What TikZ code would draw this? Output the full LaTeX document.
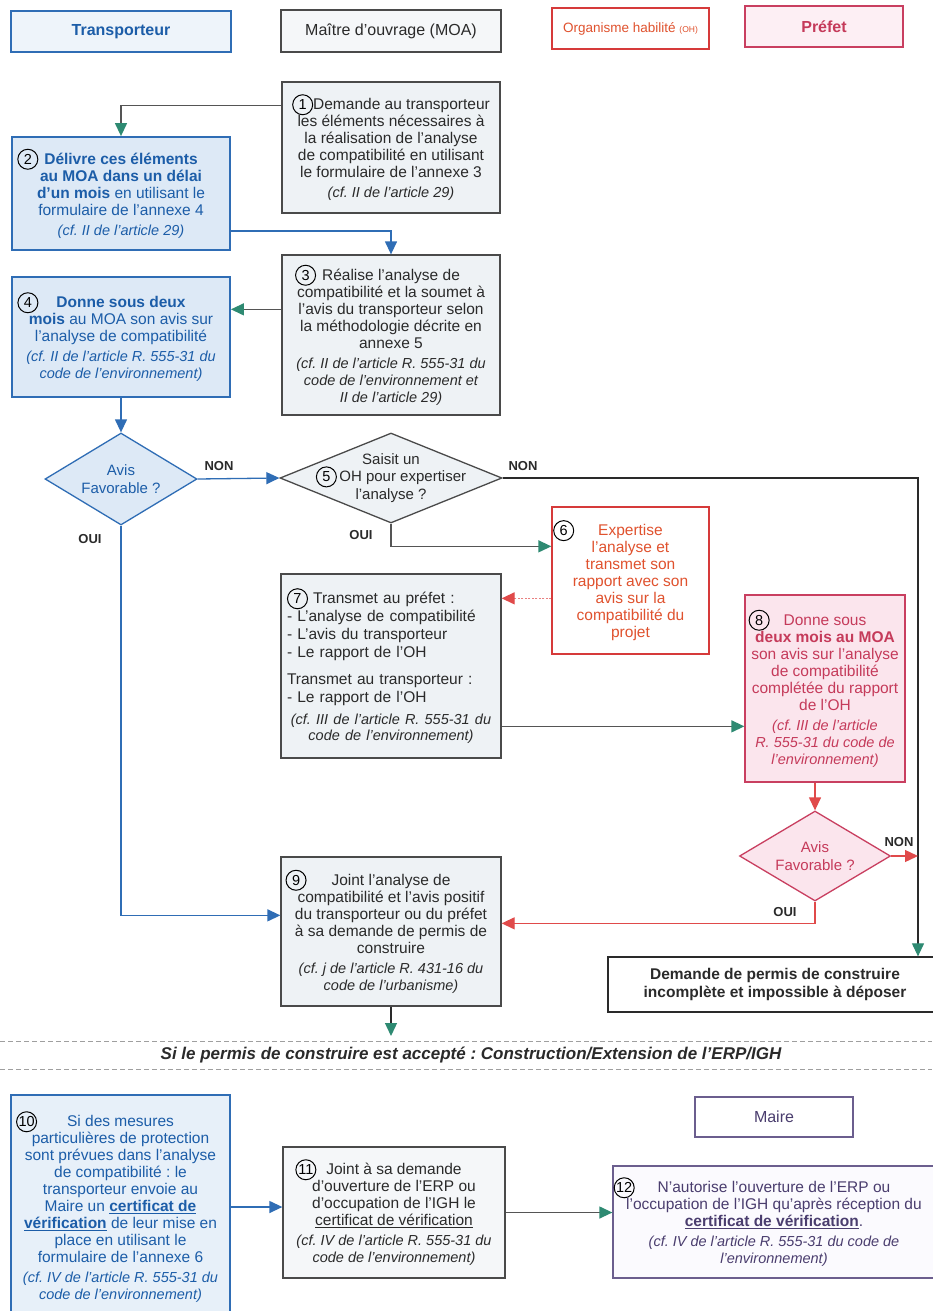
\documentclass[tikz,border=0pt]{standalone}
\usepackage{fontspec}
\setmainfont{Liberation Sans}
\usetikzlibrary{arrows.meta,shapes.geometric,calc}
\frenchspacing

\definecolor{trText}{HTML}{1C5DA8}
\definecolor{trBorder}{HTML}{2F6DB5}
\definecolor{trFill}{HTML}{DDE9F6}
\definecolor{moaBorder}{HTML}{4A4A4A}
\definecolor{moaFill}{HTML}{EEF2F5}
\definecolor{moaText}{HTML}{2A2A2A}
\definecolor{ohBorder}{HTML}{D63A3A}
\definecolor{ohText}{HTML}{E0522E}
\definecolor{prBorder}{HTML}{C93F60}
\definecolor{prText}{HTML}{C53A5A}
\definecolor{prFill}{HTML}{FBE5ED}
\definecolor{arrG}{HTML}{2E8A72}
\definecolor{lineG}{HTML}{555555}
\definecolor{arrR}{HTML}{E04A4A}
\definecolor{purBorder}{HTML}{6B5E8E}
\definecolor{purText}{HTML}{4A3D6E}
\definecolor{purFill}{HTML}{FBFAFE}

\newcommand\bodyf{\fontsize{15.5}{17}\selectfont}
\newcommand\cff{\fontsize{14.5}{16.5}\selectfont\itshape}
\newcommand\cnum[1]{\tikz[baseline=-5pt]\node[shape=circle,draw=black,fill=none,line width=1pt,inner sep=0pt,outer sep=0pt,minimum size=20pt,text width={},align=center,text=black,font=\fontsize{14.5}{14.5}\selectfont] (cnode) {#1};}

\tikzset{
 basebox/.style={draw, line width=1.3pt, align=center, inner sep=2pt, font=\bodyf},
 moabox/.style={basebox, draw=moaBorder, fill=moaFill, text=moaText},
 trbox/.style={basebox, draw=trBorder, fill=trFill, text=trText, line width=1.8pt},
 ohbox/.style={basebox, draw=ohBorder, fill=white, text=ohText},
 prbox/.style={basebox, draw=prBorder, fill=prFill, text=prText},
 purbox/.style={basebox, draw=purBorder, fill=white, text=purText},
 decision/.style={diamond, draw, line width=1.3pt, inner sep=0pt},
 dtext/.style={align=center, font=\fontsize{15}{17.5}\selectfont},
 conn/.style={line width=1.3pt},
 tipG/.style={-{Triangle[length=13pt,width=12pt,color=arrG]}},
 tipB/.style={-{Triangle[length=13pt,width=12pt,color=trBorder]}},
 tipR/.style={-{Triangle[length=13pt,width=12pt,color=arrR]}},
 yn/.style={font=\fontsize{13}{14}\selectfont\bfseries, text=moaText},
 dashline/.style={draw=gray!75, line width=1pt, dash pattern=on 5pt off 3pt},
}

\begin{document}
\begin{tikzpicture}[x=1pt,y=-1pt]
\useasboundingbox (0,0) rectangle (932,1311);
\fill[white] (0,0) rectangle (932,1311);

% headers
\node[trbox, fill=trFill!50, minimum width=220pt, minimum height=41pt, font=\fontsize{16}{17}\selectfont\bfseries] (hT) at (121,31.5) {Transporteur};
\node[moabox, fill=moaFill!60, minimum width=220pt, minimum height=42pt, font=\fontsize{16}{17}\selectfont] (hM) at (391,31) {Maître d'ouvrage (MOA)};
\node[ohbox, minimum width=157pt, minimum height=41pt, font=\fontsize{13.5}{15}\selectfont] (hO) at (630.5,28.5) {Organisme habilité {\fontsize{8.5}{9}\selectfont (OH)}};
\node[prbox, fill=prFill!60, minimum width=158pt, minimum height=41pt, font=\fontsize{16}{17}\selectfont\bfseries] (hP) at (824,26.5) {Préfet};

% boxes
\node[moabox, minimum width=218pt, minimum height=131pt] (b1) at (391,147.5) {\cnum{1}Demande au transporteur\\ les éléments nécessaires à\\ la réalisation de l'analyse\\ de compatibilité en utilisant\\ le formulaire de l'annexe 3\\[3pt] {\cff (cf. II de l'article 29)}};

\node[trbox, minimum width=218pt, minimum height=113pt] (b2) at (121,193.5) {\llap{\cnum{2}\hspace{6pt}}\textbf{Délivre ces éléments}\\ \textbf{au MOA dans un délai}\\ \textbf{d'un mois} en utilisant le\\ formulaire de l'annexe 4\\[3pt] {\cff (cf. II de l'article 29)}};

\node[moabox, minimum width=218pt, minimum height=160pt] (b3) at (391,335) {\llap{\cnum{3}\hspace{6pt}}Réalise l'analyse de\\ compatibilité et la soumet à\\ l'avis du transporteur selon\\ la méthodologie décrite en\\ annexe 5\\[3pt] {\cff (cf. II de l'article R. 555-31 du}\\ {\cff code de l'environnement et}\\ {\cff II de l'article 29)}};

\node[trbox, minimum width=218pt, minimum height=120pt] (b4) at (121,337) {\llap{\cnum{4}\hspace{18pt}}\textbf{Donne sous deux}\\ \textbf{mois} au MOA son avis sur\\ l'analyse de compatibilité\\[3pt] {\cff (cf. II de l'article R. 555-31 du}\\ {\cff code de l'environnement)}};

% decisions
\node[decision, draw=trBorder, fill=trFill, minimum width=152pt, minimum height=92pt] (d1) at (121,479) {};
\node[dtext, text=trText] (d1t) at (d1.center) {Avis\\ Favorable ?};

\node[decision, draw=moaBorder, fill=moaFill, minimum width=222pt, minimum height=90pt] (d2) at (391,478) {};
\node[dtext, text=moaText] (d2t) at (d2.center) {Saisit un\\ \cnum{5}\,OH pour expertiser\\ l'analyse ?};

\node[ohbox, minimum width=157pt, minimum height=147pt] (b6) at (630.5,580.5) {\llap{\cnum{6}\hspace{24pt}}Expertise\\ l'analyse et\\ transmet son\\ rapport avec son\\ avis sur la\\ compatibilité du\\ projet};

\node[moabox, minimum width=220pt, minimum height=184pt, text width=208pt, align=left, font=\fontsize{15.5}{18}\selectfont] (b7) at (391,666) {\cnum{7} Transmet au préfet :\\ - L'analyse de compatibilité\\ - L'avis du transporteur\\ - Le rapport de l'OH\\[9pt] Transmet au transporteur :\\ - Le rapport de l'OH\par\vspace{5pt}{\centering\cff (cf. III de l'article R. 555-31 du\\ code de l'environnement)\par}};

\node[prbox, minimum width=160pt, minimum height=187pt] (b8) at (825,688.5) {\llap{\cnum{8}\hspace{14pt}}Donne sous\\ \textbf{deux mois au MOA}\\ son avis sur l'analyse\\ de compatibilité\\ complétée du rapport\\ de l'OH\\[3pt] {\cff (cf. III de l'article}\\ {\cff R. 555-31 du code de}\\ {\cff l'environnement)}};

\node[decision, draw=prBorder, fill=prFill, minimum width=151pt, minimum height=90pt] (d3) at (815,856) {};
\node[dtext, text=prText] (d3t) at (d3.center) {Avis\\ Favorable ?};

\node[moabox, minimum width=220pt, minimum height=149pt] (b9) at (391,931.5) {\llap{\cnum{9}\hspace{25pt}}Joint l'analyse de\\ compatibilité et l'avis positif\\ du transporteur ou du préfet\\ à sa demande de permis de\\ construire\\[3pt] {\cff (cf. j de l'article R. 431-16 du}\\ {\cff code de l'urbanisme)}};

\node[basebox, draw=moaText, fill=white, text=moaText, font=\fontsize{15.5}{18}\selectfont\bfseries, minimum width=334pt, minimum height=55pt] (dem) at (775,984.5) {Demande de permis de construire\\ incomplète et impossible à déposer};

% separator
\coordinate (sepL1) at (0,1041);
\coordinate (sepR1) at (932,1041);
\coordinate (sepL2) at (0,1069);
\coordinate (sepR2) at (932,1069);
\draw[dashline] (sepL1) -- (sepR1);
\draw[dashline] (sepL2) -- (sepR2);
\node[font=\fontsize{17}{18}\selectfont\bfseries\itshape, text=moaText] (banner) at (471,1055) {Si le permis de construire est accepté : Construction/Extension de l'ERP/IGH};

\node[trbox, fill=trFill!70, minimum width=219pt, minimum height=224pt] (b10) at (120.5,1207) {\llap{\cnum{10}\hspace{30pt}}Si des mesures\\ particulières de protection\\ sont prévues dans l'analyse\\ de compatibilité : le\\ transporteur envoie au\\ Maire un \underline{\textbf{certificat de}}\\ \underline{\textbf{vérification}} de leur mise en\\ place en utilisant le\\ formulaire de l'annexe 6\\[3pt] {\cff (cf. IV de l'article R. 555-31 du}\\ {\cff code de l'environnement)}};

\node[moabox, fill=moaFill!60, minimum width=222pt, minimum height=131pt] (b11) at (394,1212.5) {\llap{\cnum{11}\hspace{10pt}}Joint à sa demande\\ d'ouverture de l'ERP ou\\ d'occupation de l'IGH le\\ \underline{certificat de vérification}\\[3pt] {\cff (cf. IV de l'article R. 555-31 du}\\ {\cff code de l'environnement)}};

\node[purbox, minimum width=158pt, minimum height=40pt, font=\fontsize{16}{17}\selectfont] (maire) at (774,1117) {Maire};

\node[purbox, fill=purFill, minimum width=322pt, minimum height=112pt] (b12) at (774,1222) {\llap{\cnum{12}\hspace{23pt}}N'autorise l'ouverture de l'ERP ou\\ l'occupation de l'IGH qu'après réception du\\ \underline{\textbf{certificat de vérification}}.\\[3pt] {\cff (cf. IV de l'article R. 555-31 du code de}\\ {\cff l'environnement)}};

% labels
\node[yn] (non1) at (219,466) {NON};
\node[yn] (non2) at (523,466) {NON};
\node[yn] (oui1) at (90,539) {OUI};
\node[yn] (oui2) at (361,535) {OUI};
\node[yn] (non3) at (899,842) {NON};
\node[yn] (oui3) at (785,912) {OUI};

% connectors
\coordinate (a1) at ($(b1.north west)+(0,24)$);
\draw[conn, draw=lineG, tipG] (a1) -| (b2.north);
\coordinate (a2) at ($(b2.south east)+(0,-20)$);
\draw[conn, draw=trBorder, tipB] (a2) -| (b3.north);
\coordinate (a3) at ($(b3.north west)+(0,55)$);
\draw[conn, draw=lineG, tipG] (a3) -- (a3 -| b4.east);
\draw[conn, draw=trBorder, tipB] (b4.south) -- (d1.north);
\draw[conn, draw=trBorder, tipB] (d1.east) -- (d2.west);
\coordinate (rline) at (918,478);
\draw[line width=1.1pt, draw=moaText, tipG] (d2.east) -- (d2.east -| rline) -- (rline |- dem.north);
\coordinate (a9) at ($(b9.north west)+(0,59)$);
\draw[conn, draw=trBorder, tipB] (d1.south) |- (a9);
\coordinate (a6) at ($(b6.north west)+(0,40)$);
\draw[conn, draw=lineG, tipG] (d2.south) |- (a6);
\coordinate (a6b) at ($(b6.north west)+(0,92)$);
\draw[conn, draw=arrR!70, dash pattern=on 2pt off 1.5pt, tipR] (a6b) -- (a6b -| b7.east);
\coordinate (a7) at ($(b7.north east)+(0,153)$);
\draw[conn, draw=lineG, tipG] (a7) -- (a7 -| b8.west);
\draw[conn, draw=arrR, tipR] (d3.north |- b8.south) -- (d3.north);
\draw[conn, draw=arrR, tipR] (d3.east) -- (d3.east -| rline);
\coordinate (a9r) at ($(b9.north east)+(0,67)$);
\draw[conn, draw=arrR, tipR] (d3.south) |- (a9r);
\coordinate (endb9) at (391,1036);
\draw[conn, draw=moaText, tipG] (b9.south) -- (b9.south |- endb9);
\draw[conn, draw=trBorder, tipB] (b10.east) -- (b10.east -| b11.west);
\draw[conn, draw=lineG, tipG] (b11.east) -- (b11.east -| b12.west);
\end{tikzpicture}
\end{document}
